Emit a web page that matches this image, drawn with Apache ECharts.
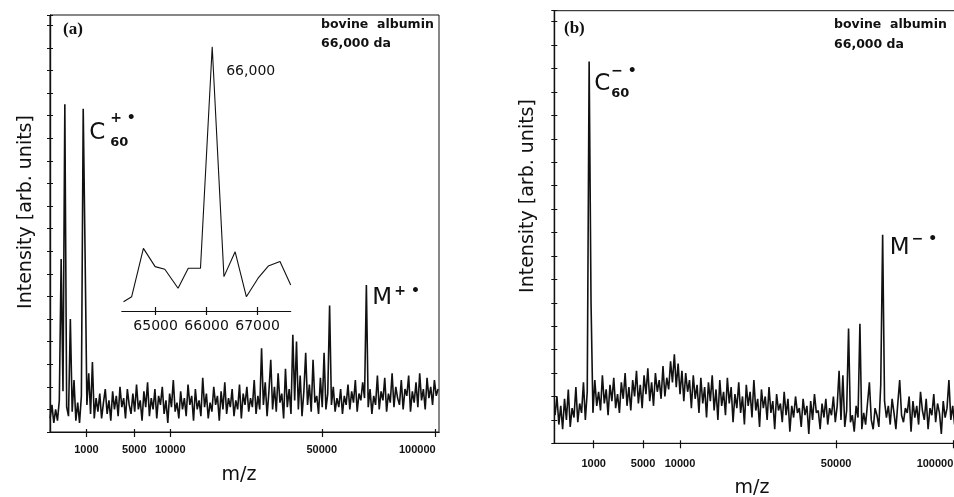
<!DOCTYPE html>
<html><head><meta charset="utf-8">
<script src="https://cdn.jsdelivr.net/npm/echarts@6/dist/echarts.min.js"></script>
<style>html,body{margin:0;padding:0;background:#fff}#c{width:954px;height:497px}</style>
</head><body><div id="c"></div>
<script>
// Time-of-flight spectra: channels are uniform in flight time, i.e. in sqrt(m/z).
// Panel (a): channel k sits at sqrt(m/z) = aStart + aStep*k
const aStart = 2, aStep = 1.5;
const aIntensity = [
0.6, 1.2, 0.4, 1.0, 0.5, 1.4, 7.65, 1.8, 14.5, 1.1,
0.7, 5.0, 0.9, 2.3, 0.5, 1.3, 0.4, 1.6, 14.3, 8.0,
1.2, 2.6, 0.8, 3.1, 0.6, 1.5, 0.9, 1.7, 0.6, 1.3,
1.9, 0.8, 1.4, 0.5, 1.8, 1.0, 1.6, 0.7, 2.0, 1.1,
1.5, 0.6, 1.9, 1.2, 0.8, 1.7, 0.9, 2.1, 1.0, 1.4,
0.5, 1.8, 1.1, 2.2, 0.7, 1.5, 1.0, 1.9, 0.6, 1.6,
1.2, 2.0, 0.8, 1.4, 0.4, 1.7, 1.1, 2.3, 0.9, 1.3,
0.6, 1.8, 1.0, 1.5, 0.7, 2.1, 1.2, 1.6, 0.5, 1.9,
1.0, 1.4, 0.7, 2.4, 1.1, 1.7, 0.6, 1.3, 0.9, 2.0,
1.2, 1.6, 0.5, 1.8, 1.0, 2.2, 0.8, 1.5, 1.1, 1.9,
0.7, 1.4, 1.0, 2.1, 0.6, 1.7, 1.2, 2.0, 0.9, 1.5,
1.1, 2.3, 0.8, 1.6, 1.0, 3.7, 1.2, 2.2, 0.7, 1.8,
3.2, 1.0, 2.0, 0.9, 2.6, 1.3, 1.7, 0.6, 2.8, 1.1,
1.9, 0.8, 4.3, 1.4, 4.0, 1.0, 2.5, 0.7, 1.8, 3.5,
1.2, 2.1, 0.9, 3.2, 1.3, 1.6, 0.8, 2.4, 1.1, 3.5,
1.0, 1.7, 5.6, 1.2, 2.0, 0.9, 1.5, 1.1, 1.9, 0.8,
1.6, 1.2, 2.1, 1.0, 1.8, 1.3, 2.3, 0.9, 1.7, 1.4,
2.2, 1.5, 6.5, 1.1, 1.9, 0.8, 1.6, 1.2, 2.5, 1.0,
1.8, 1.4, 2.4, 0.9, 1.7, 1.3, 2.6, 1.1, 2.0, 1.5,
1.2, 2.3, 1.0, 1.9, 1.6, 2.5, 0.9, 1.8, 1.3, 2.2,
1.1, 2.6, 1.4, 1.9, 1.0, 2.4, 1.5, 2.0, 1.2, 2.3,
1.6, 1.9
];
// Panel (b)
const bStart = 1, bStep = 1.5;
const bIntensity = [
1.2, 2.0, 0.8, 1.6, 0.6, 1.9, 1.0, 2.3, 0.7, 1.5,
1.1, 2.4, 0.9, 1.7, 1.3, 2.6, 1.0, 2.2, 16.3, 6.0,
1.3, 2.7, 1.6, 2.2, 1.4, 2.9, 1.7, 2.3, 1.2, 2.5,
1.8, 2.8, 1.5, 2.1, 1.3, 2.6, 1.9, 3.0, 1.6, 2.4,
1.4, 2.7, 2.0, 3.1, 1.7, 2.5, 1.5, 2.9, 2.1, 3.2,
1.8, 2.6, 1.6, 3.0, 2.2, 2.7, 1.9, 3.3, 2.0, 2.8,
2.3, 3.5, 2.6, 3.8, 2.4, 3.4, 2.1, 3.1, 1.8, 3.0,
2.2, 2.7, 1.5, 2.9, 1.9, 2.5, 1.3, 2.8, 1.7, 2.4,
1.1, 2.6, 1.8, 2.9, 1.4, 2.3, 1.0, 2.7, 1.6, 2.2,
1.2, 2.8, 1.7, 2.4, 0.9, 2.1, 1.5, 2.6, 1.3, 2.0,
0.8, 2.5, 1.6, 2.2, 1.1, 2.7, 1.4, 1.9, 0.7, 2.3,
1.5, 2.0, 1.0, 2.4, 1.3, 1.8, 0.6, 2.1, 1.4, 1.7,
0.9, 2.2, 1.2, 1.9, 0.5, 1.6, 1.1, 2.0, 1.3, 1.5,
0.7, 1.9, 1.2, 1.6, 0.4, 1.8, 1.0, 2.1, 1.3, 1.4,
0.6, 1.7, 1.1, 1.9, 0.8, 1.5, 1.2, 2.0, 0.9, 1.6,
3.1, 1.0, 2.9, 0.7, 1.4, 4.9, 0.9, 1.2, 0.5, 1.6,
1.1, 5.1, 0.6, 1.3, 0.8, 1.7, 2.6, 1.0, 0.6, 1.5,
1.2, 0.7, 2.5, 8.9, 1.8, 1.1, 1.6, 0.8, 1.9, 1.3,
0.6, 1.7, 2.7, 1.2, 0.9, 1.5, 1.3, 2.0, 0.5, 1.8,
1.1, 1.6, 0.8, 2.2, 1.4, 1.0, 1.9, 0.6, 1.5, 1.2,
2.1, 0.9, 1.7, 1.3, 0.4, 1.8, 1.1, 1.5, 2.7, 1.0,
1.6, 0.8, 2.0, 1.3, 1.7, 1.1
];
const xTickLabels = [1000, 5000, 10000, 50000, 100000];
// Inset (panel a): zoom around the molecular ion
const insetMz = [64370, 64530, 64760, 64990, 65180, 65440, 65640, 65880, 66110, 66340, 66560, 66780, 67010, 67210, 67440, 67650];
const insetIntensity = [3.5, 5.4, 23.7, 16.8, 15.8, 8.6, 16.2, 16.2, 100, 13.0, 22.4, 5.4, 12.4, 17.0, 18.7, 9.8];
const insetTicks = [65000, 66000, 67000];
// Peak annotations: channel index of labelled peak
const aC60 = 18, aM = 172, bC60 = 18, bM = 173, insetPeak = 8;

const INK = '#111';
const chart = echarts.init(document.getElementById('c'), null, {renderer: 'canvas'});
const sq = xTickLabels.map(Math.sqrt);
const tickFont = {fontSize: 11, fontWeight: 'bold', fontFamily: 'Liberation Sans', color: INK};

function mainX(grid, min, max, margin, inside) {
  return {
    type: 'value', gridIndex: grid, min: min, max: max, position: 'bottom',
    axisLine: {show: true, lineStyle: {color: INK, width: 1.2}},
    axisTick: {show: true, inside: inside, length: inside ? 3 : 5, customValues: sq, lineStyle: {color: INK, width: 1.2}},
    axisLabel: inside ? {show: false} : Object.assign({show: true, customValues: sq, margin: margin,
      formatter: v => {
        const m = Math.round(v * v);
        // the last label sits to the left of its tick in the original
        return m === xTickLabels[xTickLabels.length - 1] ? '{r|' + m + '}' : String(m);
      },
      rich: {r: {fontSize: 11, fontWeight: 'bold', fontFamily: 'Liberation Sans', color: INK, padding: [0, 36, 0, 0]}}
    }, tickFont),
    splitLine: {show: false}
  };
}
function mainY(grid, max, inside) {
  return {
    type: 'value', gridIndex: grid, min: 0, max: max, interval: 1, position: 'left',
    axisLine: {show: true, lineStyle: {color: INK, width: 1.2}},
    axisTick: {show: true, inside: inside, length: 3, lineStyle: {color: INK, width: 1}},
    axisLabel: {show: false}, splitLine: {show: false}
  };
}
const insetX = (inside) => ({
  type: 'value', gridIndex: 2, min: 64340, max: 67650, position: 'bottom',
  axisLine: {show: true, lineStyle: {color: INK, width: 1}},
  axisTick: {show: true, inside: inside, length: 4, customValues: insetTicks, lineStyle: {color: INK, width: 1.2}},
  axisLabel: inside ? {show: false} : {show: true, customValues: insetTicks, margin: 8, fontSize: 14,
    fontFamily: 'DejaVu Sans', color: INK, formatter: v => String(v)},
  splitLine: {show: false}
});

chart.setOption({
  animation: false,
  backgroundColor: '#fff',
  grid: [
    {left: 50, top: 15, width: 389, height: 417, show: true, borderColor: INK, borderWidth: 1,
     backgroundColor: 'transparent', outerBoundsMode: 'none', containLabel: false},
    {left: 554.3, top: 10.7, width: 408.5, height: 432.6, show: true, borderColor: INK, borderWidth: 1,
     backgroundColor: 'transparent', outerBoundsMode: 'none', containLabel: false},
    {left: 122, top: 46.7, width: 168.7, height: 264.3, outerBoundsMode: 'none', containLabel: false}
  ],
  xAxis: [
    mainX(0, 1.9, 319.25, 12, false),
    mainX(1, 0.4, 324, 15, false),
    insetX(false),
    mainX(0, 1.9, 319.25, 12, true),
    mainX(1, 0.4, 324, 15, true),
    insetX(true)
  ],
  yAxis: [
    mainY(0, 18.45, false), mainY(0, 18.45, true),
    mainY(1, 18.47, false), mainY(1, 18.47, true),
    {type: 'value', gridIndex: 2, min: 0, max: 100, show: false}
  ],
  series: [
    {type: 'line', xAxisIndex: 0, yAxisIndex: 0, symbol: 'none', lineStyle: {color: INK, width: 1.6},
     data: aIntensity.map((v, k) => [aStart + aStep * k, v])},
    {type: 'line', xAxisIndex: 1, yAxisIndex: 2, symbol: 'none', lineStyle: {color: INK, width: 1.6},
     data: bIntensity.map((v, k) => [bStart + bStep * k, v])},
    {type: 'line', xAxisIndex: 2, yAxisIndex: 4, symbol: 'none', lineStyle: {color: INK, width: 1.1},
     data: insetMz.map((m, k) => [m, insetIntensity[k]])}
  ]
});

function pix(xi, yi, pt) { return chart.convertToPixel({xAxisIndex: xi, yAxisIndex: yi}, pt); }
function T(x, y, text, size, extra) {
  return Object.assign({type: 'text', x: x, y: y, silent: true,
    style: Object.assign({text: text, fontSize: size, fontFamily: 'DejaVu Sans', fill: INK,
      align: 'left', verticalAlign: 'middle'}, extra || {})});
}
const pa = pix(0, 0, [aStart + aStep * aC60, aIntensity[aC60]]);
const pm = pix(0, 0, [aStart + aStep * aM, aIntensity[aM]]);
const pb = pix(1, 2, [bStart + bStep * bC60, bIntensity[bC60]]);
const pbm = pix(1, 2, [bStart + bStep * bM, bIntensity[bM]]);
const pin = pix(2, 4, [insetMz[insetPeak], insetIntensity[insetPeak]]);

const g = [
  // panel (a)
  T(63, 30, '(a)', 17, {fontFamily: 'Liberation Serif', fontWeight: 'bold'}),
  T(321, 25, 'bovine  albumin', 12.5, {fontWeight: 'bold'}),
  T(321, 44, '66,000 da', 12.5, {fontWeight: 'bold'}),
  T(pa[0] + 6, pa[1] + 24, 'C', 23),
  T(pa[0] + 27, pa[1] + 10, '+ •', 14, {fontWeight: 'bold'}),
  T(pa[0] + 27, pa[1] + 34, '60', 13, {fontWeight: 'bold'}),
  T(pm[0] + 6, pm[1] + 13, 'M', 23),
  T(pm[0] + 28, pm[1] + 6, '+ •', 14, {fontWeight: 'bold'}),
  T(pin[0] + 14, pin[1] + 25, '66,000', 14),
  {type: 'text', x: 26, y: 212, rotation: Math.PI / 2, silent: true,
   style: {text: 'Intensity [arb. units]', fontSize: 19, fontFamily: 'DejaVu Sans', fill: INK, align: 'center', verticalAlign: 'middle'}},
  T(239, 475, 'm/z', 19, {align: 'center'}),
  // panel (b)
  T(564, 29, '(b)', 17, {fontFamily: 'Liberation Serif', fontWeight: 'bold'}),
  T(834, 25, 'bovine  albumin', 12.5, {fontWeight: 'bold'}),
  T(834, 45, '66,000 da', 12.5, {fontWeight: 'bold'}),
  T(pb[0] + 5, pb[1] + 23, 'C', 23),
  T(pb[0] + 22, pb[1] + 10, '− •', 14, {fontWeight: 'bold'}),
  T(pb[0] + 22, pb[1] + 32, '60', 13, {fontWeight: 'bold'}),
  T(pbm[0] + 7, pbm[1] + 13, 'M', 23),
  T(pbm[0] + 29, pbm[1] + 5, '− •', 14, {fontWeight: 'bold'}),
  {type: 'text', x: 528, y: 196, rotation: Math.PI / 2, silent: true,
   style: {text: 'Intensity [arb. units]', fontSize: 19, fontFamily: 'DejaVu Sans', fill: INK, align: 'center', verticalAlign: 'middle'}},
  T(752, 488, 'm/z', 19, {align: 'center'})
];
chart.setOption({graphic: g});
</script>
</body></html>
